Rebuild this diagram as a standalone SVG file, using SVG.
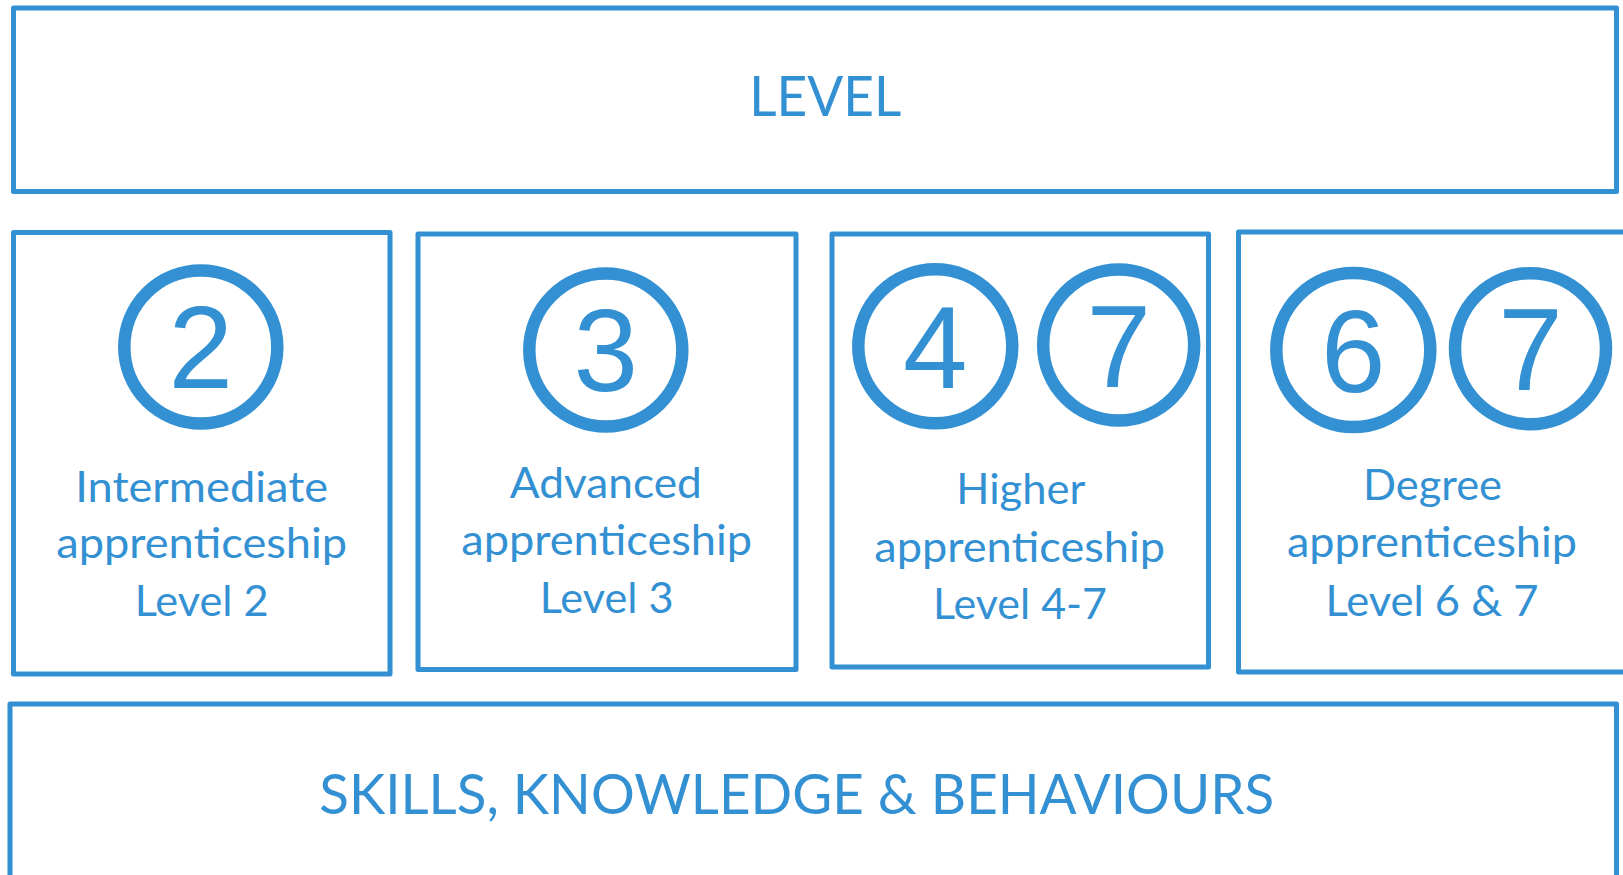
<svg xmlns="http://www.w3.org/2000/svg" width="1623" height="875" viewBox="0 0 1623 875">
<style>
.box{fill:none;stroke:#3391D3;stroke-width:5;stroke-linejoin:round}
.ring{fill:none;stroke:#3391D3;stroke-width:12.5}
.num{font-family:"Liberation Sans",Arial,sans-serif;font-size:116px;fill:#3391D3;text-anchor:middle}
.lbl{font-family:Lato,"Open Sans",sans-serif;font-size:42px;fill:#3391D3;text-anchor:middle}
.big{font-family:Lato,"Open Sans",sans-serif;font-size:56px;fill:#3391D3;text-anchor:middle}
</style>
<rect width="1623" height="875" fill="#fff"/>
<g id="level">
<rect class="box" x="13.5" y="8" width="1603" height="183.5"/>
<text class="big" x="825.3" y="116" textLength="152" lengthAdjust="spacingAndGlyphs">LEVEL</text>
</g>
<g id="intermediate">
<rect class="box" x="13.5" y="232.5" width="376.5" height="441.5"/>
<circle class="ring" cx="200.8" cy="347" r="76.5"/>
<text class="num" x="200.8" y="388.3">2</text>
<text class="lbl" x="201.7" y="501.7" textLength="253" lengthAdjust="spacingAndGlyphs">Intermediate</text>
<text class="lbl" x="201.7" y="558.3" textLength="291" lengthAdjust="spacingAndGlyphs">apprenticeship</text>
<text class="lbl" x="201.7" y="616" textLength="134" lengthAdjust="spacingAndGlyphs">Level 2</text>
</g>
<g id="advanced">
<rect class="box" x="418" y="234" width="378" height="435.5"/>
<circle class="ring" cx="605.8" cy="350" r="76.5"/>
<text class="num" x="605.8" y="391">3</text>
<text class="lbl" x="605.8" y="498.3" textLength="192" lengthAdjust="spacingAndGlyphs">Advanced</text>
<text class="lbl" x="606.7" y="555" textLength="291" lengthAdjust="spacingAndGlyphs">apprenticeship</text>
<text class="lbl" x="606.7" y="613.3" textLength="134" lengthAdjust="spacingAndGlyphs">Level 3</text>
</g>
<g id="higher">
<rect class="box" x="832" y="234" width="376.5" height="433"/>
<circle class="ring" cx="935.3" cy="346.3" r="77"/>
<text class="num" x="935.3" y="388.3">4</text>
<circle class="ring" cx="1118.7" cy="345" r="75.5"/>
<text class="num" x="1118.7" y="386.7">7</text>
<text class="lbl" x="1020.8" y="504" textLength="129" lengthAdjust="spacingAndGlyphs">Higher</text>
<text class="lbl" x="1019.7" y="561.7" textLength="291" lengthAdjust="spacingAndGlyphs">apprenticeship</text>
<text class="lbl" x="1020" y="619.3" textLength="174" lengthAdjust="spacingAndGlyphs">Level 4-7</text>
</g>
<g id="degree">
<rect class="box" x="1238.5" y="232" width="387" height="440"/>
<circle class="ring" cx="1353.3" cy="350" r="77"/>
<text class="num" x="1353.3" y="391.5">6</text>
<circle class="ring" cx="1530.5" cy="348.7" r="75.5"/>
<text class="num" x="1530.5" y="390">7</text>
<text class="lbl" x="1432.5" y="500" textLength="139" lengthAdjust="spacingAndGlyphs">Degree</text>
<text class="lbl" x="1432" y="557.3" textLength="290" lengthAdjust="spacingAndGlyphs">apprenticeship</text>
<text class="lbl" x="1432" y="616" textLength="213" lengthAdjust="spacingAndGlyphs">Level 6 &amp; 7</text>
</g>
<g id="skills">
<rect class="box" x="10" y="704" width="1606.5" height="200"/>
<text class="big" x="796.7" y="814" font-size="57" textLength="955" lengthAdjust="spacingAndGlyphs">SKILLS, KNOWLEDGE &amp; BEHAVIOURS</text>
</g>
<g id="connectors"/>
</svg>
